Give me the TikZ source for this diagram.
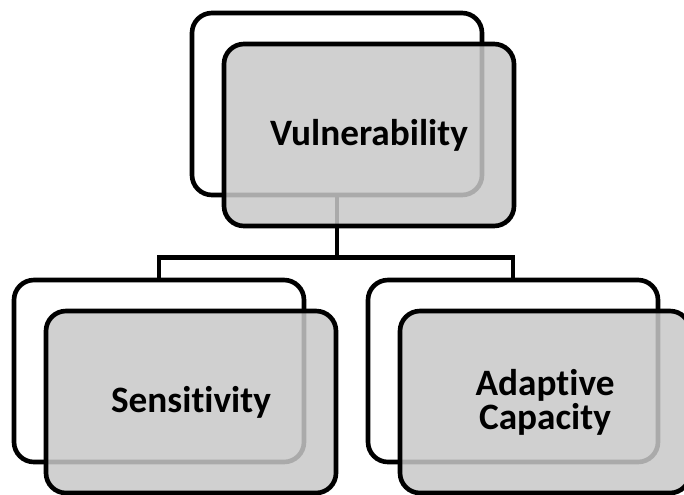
\documentclass[tikz,border=0pt]{standalone}
\usepackage{fontspec}
\setmainfont{Carlito}[Ligatures=NoCommon]
\usepackage{xcolor}
\definecolor{boxgray}{RGB}{200,200,200}
\usepackage{tikz}
\usetikzlibrary{calc,positioning}

\begin{document}
\begin{tikzpicture}[
    backbox/.style={draw=black, line width=3.3pt, rounded corners=0.5cm,
        minimum width=7.25cm, minimum height=4.55cm, fill=white},
    frontbox/.style={backbox, fill=boxgray, fill opacity=0.85, text opacity=1,
        align=center, font=\bfseries\fontsize{26.5}{24}\selectfont},
    link/.style={draw=black, line width=3.3pt}
]
            % Parameters
            \def\dx{0.8}
            \def\dy{0.775}
            \def\drop{1.5}
            % Frame
            \clip (0,0) rectangle (17.1,-12.35);
            % Back boxes
            \node[backbox] (vulB) at (8.425,-2.6) {};
            \node[backbox] (sensB) at (3.975,-9.275) {};
            \node[backbox] (adapB) at (12.825,-9.275) {};
            % Connectors
            \coordinate (split) at ($(vulB.south)+(0,-\drop)$);
            \draw[link] (vulB.south) -- (split) -| (sensB.north);
            \draw[link] (split) -| (adapB.north);
            % Front boxes
            \node[frontbox] (vulF) at ($(vulB)+(\dx,-\dy)$) {Vulnerability};
            \node[frontbox] (sensF) at ($(sensB)+(\dx,-\dy)$) {Sensitivity};
            \node[frontbox] (adapF) at ($(adapB)+(\dx,-\dy)$) {Adaptive\\Capacity};
\end{tikzpicture}
\end{document}
